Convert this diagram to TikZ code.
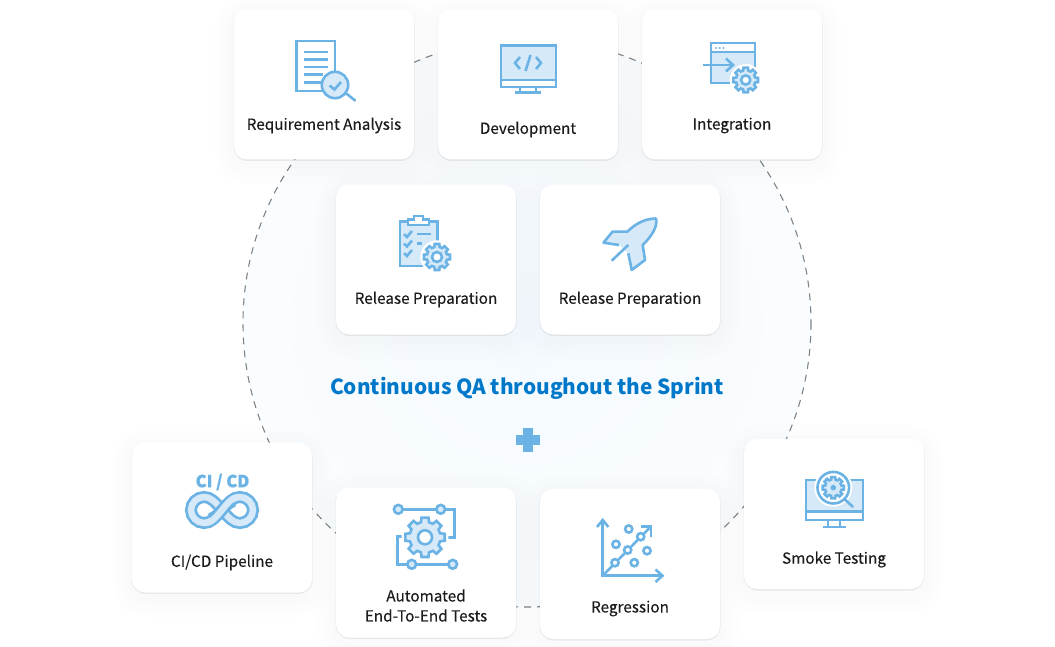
\documentclass[tikz,border=0pt]{standalone}
\usepackage{fontspec}
\setmainfont{Noto Sans CJK KR}
\newfontfamily\cardfont{Noto Sans CJK KR}[FakeBold=0.25]
\usepackage{xcolor}
\usetikzlibrary{calc}

\definecolor{iconblue}{HTML}{6AB3E4}
\definecolor{iconlight}{HTML}{D6E9F8}
\definecolor{titleblue}{HTML}{0078C9}
\definecolor{circlefill}{HTML}{F4FAFF}
\definecolor{circleedge}{HTML}{FAFDFF}
\definecolor{dashgray}{HTML}{7F8487}
\definecolor{labelblack}{HTML}{1C1C1C}

\tikzset{
  card/.style={rectangle, fill=white, rounded corners=13pt, minimum width=180pt, minimum height=150pt},
  cardtext/.style={text=labelblack, align=center, font=\cardfont\fontsize{15.3}{20}\selectfont},
  iconline/.style={draw=iconblue, line width=2.6pt, line join=miter},
  iconfill/.style={iconline, fill=iconlight},
  iconwhite/.style={iconline, fill=white},
}

% Gear with eight teeth, centre x y, outer radius, inner radius
\newcommand{\gearglyph}[4]{
  \begin{scope}[shift={(#1,#2)}]
    \fill[white] (0,0) circle ({#3+3.5});
    \draw[iconfill] (-15:#3*0.78) \foreach \a in {0,45,...,315} {
      -- (\a-15:#3*0.78) -- (\a-10:#3) -- (\a+10:#3) -- (\a+15:#3*0.78)} -- cycle;
    \draw[iconwhite] (0,0) circle (#4);
  \end{scope}
}

% Infinity loop of the CI/CD icon
\newcommand{\loopglyph}{(222,510)
    .. controls (229,502) and (233,497) .. (240,497)
    .. controls (247,497) and (253,503) .. (253,510)
    .. controls (253,517) and (247,523) .. (240,523)
    .. controls (233,523) and (229,518) .. (222,510)
    .. controls (215,502) and (211,497) .. (204,497)
    .. controls (197,497) and (191,503) .. (191,510)
    .. controls (191,517) and (197,523) .. (204,523)
    .. controls (211,523) and (215,518) .. (222,510) -- cycle}

\begin{document}
\begin{tikzpicture}[x=1pt, y=-1pt]
  \useasboundingbox (0,0) rectangle (1055,647);

  % Dashed circle behind the cards
  \shade[inner color=circlefill, outer color=circleedge] (527,323) circle (284);
  \draw[draw=dashgray, line width=1.1pt, dash pattern=on 7pt off 6pt] (527,323) circle (284);

  % Soft shadows of the cards
  \foreach \cx/\cy in {324/84.5, 528/84.5, 732/84.5, 426/259.5, 630/259.5, 222/517.5, 426/562.5, 630/564, 834/514} {
    \foreach \g in {4,8,...,20} {
      \fill[black, opacity=0.005, rounded corners={(13+\g)*1pt}] ({\cx-90-\g},{\cy-75-\g+5}) rectangle ({\cx+90+\g},{\cy+75+\g+5});
    }
    \fill[black, opacity=0.07, rounded corners=14pt] ({\cx-90.5},{\cy-74.5}) rectangle ({\cx+90.5},{\cy+76.5});
  }

  % Cards
  \node[card] (req) at (324,84.5) {};
  \node[card] (dev) at (528,84.5) {};
  \node[card] (integ) at (732,84.5) {};
  \node[card] (relprep) at (426,259.5) {};
  \node[card] (relrocket) at (630,259.5) {};
  \node[card] (cicd) at (222,517.5) {};
  \node[card] (auto) at (426,562.5) {};
  \node[card] (regr) at (630,564) {};
  \node[card] (smoke) at (834,514) {};

  % Card labels
  \node[cardtext] (reqlabel) at (324,125.5) {Requirement Analysis};
  \node[cardtext] (devlabel) at (528,129.5) {Development};
  \node[cardtext] (integlabel) at (732,125.5) {Integration};
  \node[cardtext] (relpreplabel) at (426,299.5) {Release Preparation};
  \node[cardtext] (relrocketlabel) at (630,299.5) {Release Preparation};
  \node[cardtext] (cicdlabel) at (222,562.5) {CI/CD Pipeline};
  \node[cardtext] (autolabel) at (426,605.5) {Automated\\End-To-End Tests};
  \node[cardtext] (regrlabel) at (630,608.5) {Regression};
  \node[cardtext] (smokelabel) at (834,559.5) {Smoke Testing};

  % Title and plus
  \node[text=titleblue, font=\fontsize{20.8}{26}\selectfont\bfseries] (title) at (527,388) {Continuous QA throughout the Sprint};
  \fill[iconblue] (523.3,428) rectangle (532.7,452);
  \fill[iconblue] (516,435.3) rectangle (540,444.7);

  % Requirement icon
  \draw[iconwhite] (296.5,41) rectangle (335,91);
  \foreach \yy/\xx in {52/328, 59.5/328, 67/328, 74.5/323, 82.5/321} {
    \draw[iconline] (304,\yy) -- (\xx,\yy);
  }
  \draw[iconline, line cap=round] (347,94) -- (355,100.5);
  \draw[iconfill] (335,85) circle (13.2);
  \draw[iconline] (329.5,85.5) -- (334.5,89.5) -- (341,82);

  % Development icon
  \draw[iconfill] (501,45.5) rectangle (556,87);
  \draw[iconwhite] (501,80) rectangle (556,87);
  \draw[iconline] (520,87) -- (520,92.5) (536,87) -- (536,92.5) (515,92.5) -- (541,92.5);
  \draw[iconline] (520,57) -- (515,63) -- (520,69);
  \draw[iconline] (536,57) -- (541,63) -- (536,69);
  \draw[iconline] (530.5,55) -- (525.5,71);

  % Integration icon
  \draw[iconfill] (711,43) rectangle (755,83);
  \draw[iconwhite] (711,43) rectangle (755,52);
  \foreach \xx in {716,719.7,723.4} {
    \fill[iconblue] (\xx,48) circle (1.1);
  }
  \draw[iconline] (703,65) -- (732,65);
  \draw[iconline] (726,58.5) -- (733,65) -- (726,71.5);
  \gearglyph{745.7}{80}{12.5}{4.6}

  % Release preparation icon
  \draw[iconfill] (400,221.5) rectangle (437.5,266);
  \draw[iconwhite] (408,225) -- (408,219.5) -- (414,219.5) -- (414,216) -- (423,216) -- (423,219.5) -- (429,219.5) -- (429,225) -- cycle;
  \foreach \yy in {234,243.5,253} {
    \draw[iconline] (404,\yy) -- (407,\yy+3) -- (412,\yy-3);
  }
  \draw[iconline] (417,234) -- (431,234);
  \draw[iconline] (417,243.5) -- (422,243.5);
  \gearglyph{437}{257}{13.2}{5}

  % Rocket icon
  \fill[iconlight] (603.5,242.7) -- (612.5,231.7) -- (627.3,231.7)
    .. controls (636,223) and (646,218.5) .. (656,218.5)
    .. controls (658,226) and (652,236) .. (642.7,245)
    -- (645,260) -- (631.7,270) -- (628.3,253.3) -- (619,245) -- cycle;
  \draw[iconline, line join=round] (619,245) -- (603.5,242.7) -- (612.5,231.7) -- (627.3,231.7)
    .. controls (636,223) and (646,218.5) .. (656,218.5)
    .. controls (658,226) and (652,236) .. (642.7,245)
    -- (645,260) -- (631.7,270) -- (628.3,253.3);
  \draw[iconline] (611.7,260.7) -- (628.3,245);

  % CI/CD icon
  \node[text=iconblue, font=\fontsize{16.5}{18}\selectfont\bfseries\addfontfeatures{FakeBold=0.8}] (cicdglyph) at (222.5,482) {CI / CD};
  \draw[draw=iconblue, line width=12pt] \loopglyph;
  \draw[draw=iconlight, line width=6.5pt] \loopglyph;
  \draw[draw=iconblue, line width=12pt] (211,519) .. controls (215,517) and (217,516) .. (222,510) .. controls (227,504) and (229,503) .. (233,501);
  \draw[draw=iconlight, line width=6.5pt] (206,523) .. controls (213,522) and (217,516) .. (222,510) .. controls (227,504) and (231,498) .. (238,497);

  % Automated tests icon
  \draw[iconline] (398.3,509.3) -- (454.3,509.3) -- (454.3,537.3) -- (446.7,537.3);
  \draw[iconline] (405,536.7) -- (397.7,536.7) -- (397.7,564.3) -- (452.7,564.3);
  \foreach \cx/\cy in {398.3/509.3, 440.7/509.3, 411.7/564.3, 452.7/564.3} {
    \draw[iconfill] (\cx,\cy) circle (4.4);
  }
  \gearglyph{425}{537.3}{20}{7}

  % Regression icon
  \draw[iconline] (602.7,521) -- (602.7,575.7) -- (662,575.7);
  \draw[iconline] (597,527) -- (602.7,520) -- (608.4,527);
  \draw[iconline] (655.5,569.5) -- (662.5,575.7) -- (655.5,582);
  \draw[iconline] (602.7,575.7) -- (651,526.5);
  \draw[iconline] (641,526.5) -- (651,526.5) -- (651,537);
  \foreach \cx/\cy in {615/562.7, 627.7/550, 640.7/536.7, 616/544.3, 628.7/529, 647/550.7, 634.3/562.7} {
    \draw[iconwhite] (\cx,\cy) circle (3.6);
  }

  % Smoke testing icon
  \draw[iconfill] (806,480) rectangle (863,520);
  \draw[iconwhite] (806,511.5) rectangle (863,520);
  \draw[iconline] (828,520) -- (828,527) (840,520) -- (840,527) (822.7,527) -- (845.7,527);
  \fill[white] (833.3,487.7) circle (19);
  \draw[iconline, line cap=round] (845,499.5) -- (852.7,506.7);
  \draw[iconwhite] (833.3,487.7) circle (15.8);
  \begin{scope}[shift={(833.3,487.7)}]
    \draw[iconfill] (-15:8.4) \foreach \a in {0,45,...,315} {
      -- (\a-15:8.4) -- (\a-10:10.8) -- (\a+10:10.8) -- (\a+15:8.4)} -- cycle;
    \fill[iconblue] (0,0) circle (2.8);
  \end{scope}

\end{tikzpicture}
\end{document}
